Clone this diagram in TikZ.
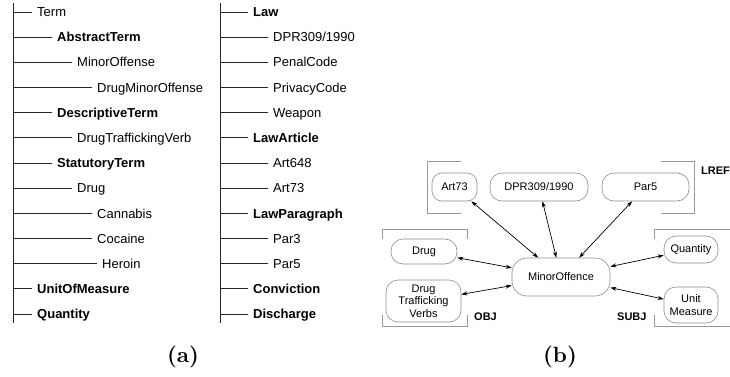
\documentclass[tikz,border=0pt]{standalone}
\usepackage{fontspec}
\usetikzlibrary{arrows.meta}
\newfontfamily\arialfont{Liberation Sans}
\newfontfamily\capfont{lmroman10-bold.otf}
\begin{document}
\begin{tikzpicture}[>={Stealth[length=6pt,width=4pt]},x=1pt,y=-1pt,
	tree/.style={line width=0.8pt,black!85},
	item/.style={anchor=west,inner xsep=5pt,inner ysep=0pt,text height=9.3pt,text depth=0pt,font=\arialfont\fontsize{13}{15}\selectfont},
	head/.style={item,font=\arialfont\bfseries\fontsize{13}{15}\selectfont},
	box/.style={draw=black!45,line width=0.6pt,rounded corners=12pt,align=center,inner sep=0pt,font=\arialfont\fontsize{11}{12.3}\selectfont},
	link/.style={<->,line width=0.7pt},
	brk/.style={draw=black!40,line width=0.8pt},
	tag/.style={anchor=west,inner sep=0pt,font=\arialfont\bfseries\fontsize{11}{13}\selectfont},
	subcap/.style={font=\capfont\fontsize{22}{26}\selectfont}]
	\useasboundingbox (0,0) rectangle (730,377);
	\def\gap{25.17}
	% (a) left column
	\draw[tree] (13,3) -- (13,323);
	\foreach \t/\d/\s [count=\i from 0] in {Term/32/item,AbstractTerm/52/head,MinorOffense/72/item,DrugMinorOffense/92/item,DescriptiveTerm/52/head,DrugTraffickingVerb/72/item,StatutoryTerm/52/head,Drug/72/item,Cannabis/92/item,Cocaine/92/item,Heroin/97/item,UnitOfMeasure/32/head,Quantity/32/head}{
		\coordinate (ls\i) at (13,12+\gap*\i);
		\node[\s] (l\i) at (\d,12+\gap*\i) {\t};
		\draw[tree] (ls\i) -- (l\i.west);
	}
	% (a) right column
	\draw[tree] (220,3) -- (220,323);
	\foreach \t/\d/\s [count=\i from 0] in {Law/248/head,{DPR309/1990}/268/item,PenalCode/268/item,PrivacyCode/268/item,Weapon/268/item,LawArticle/248/head,Art648/268/item,Art73/268/item,LawParagraph/248/head,Par3/268/item,Par5/268/item,Conviction/248/head,Discharge/248/head}{
		\coordinate (rs\i) at (220,12+\gap*\i);
		\node[\s] (r\i) at (\d,12+\gap*\i) {\t};
		\draw[tree] (rs\i) -- (r\i.west);
	}
	% (b) nodes
	\node[box,rounded corners=10pt,minimum width=45pt,minimum height=28pt] (art) at (454.5,187) {Art73};
	\node[box,minimum width=98pt,minimum height=28pt] (dpr) at (539,187) {DPR309/1990};
	\node[box,minimum width=87pt,minimum height=28pt] (par) at (645.5,187) {Par5};
	\node[box,minimum width=66pt,minimum height=25pt] (drug) at (424,251.5) {Drug};
	\node[box,minimum width=75pt,minimum height=42pt] (dtv) at (423.5,301) {Drug\\Trafficking\\Verbs};
	\node[box,rounded corners=15pt,minimum width=98pt,minimum height=38pt] (mo) at (561,277) {MinorOffence};
	\node[box,minimum width=54pt,minimum height=27pt] (qty) at (691,249.5) {Quantity};
	\node[box,minimum width=54pt,minimum height=36pt] (unit) at (691,305) {Unit\\Measure};
	% (b) links
	\foreach \n in {art,dpr,par,drug,dtv,qty,unit}
		\draw[link] (\n) -- (mo);
	% brackets
	\draw[brk] (461,161) -- (427,161) -- (427,213) -- (461,213);
	\draw[brk] (661,161) -- (694,161) -- (694,213) -- (661,213);
	\draw[brk] (382,239) -- (382,229) -- (467,229) -- (467,239) (382,315) -- (382,326) -- (467,326) -- (467,315);
	\draw[brk] (654,239) -- (654,229) -- (730,229) (654,315) -- (654,326) -- (730,326);
	\node[tag] (lref) at (701,171) {LREF};
	\node[tag] (obj) at (474,317) {OBJ};
	\node[tag] (subj) at (617,317) {SUBJ};
	% captions
	\node[subcap] (capa) at (183,357) {(a)};
	\node[subcap] (capb) at (560,357) {(b)};
\end{tikzpicture}
\end{document}
